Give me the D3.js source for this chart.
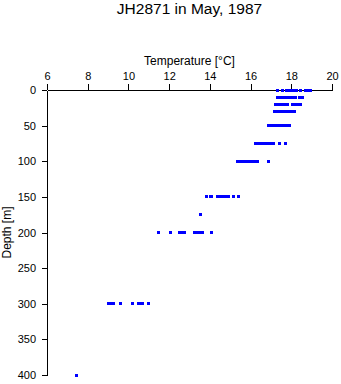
<!DOCTYPE html>
<html>
<head>
<meta charset="utf-8">
<script src="https://cdn.jsdelivr.net/npm/d3@7"></script>
<style>
  html, body { margin: 0; padding: 0; background: #fff; }
  svg { display: block; font-family: "Liberation Sans", Arial, Helvetica, sans-serif; }
</style>
</head>
<body>
<svg id="chart" width="341" height="384"></svg>
<script>
// ---- data ----
const chartTitle = "JH2871 in May, 1987";
const xLabel = "Temperature [°C]";
const yLabel = "Depth [m]";
const xTicks = [6, 8, 10, 12, 14, 16, 18, 20];
const yTicks = [0, 50, 100, 150, 200, 250, 300, 350, 400];

const depths = [0, 10, 20, 30, 50, 75, 100, 150, 175, 200, 300, 400];
const temps0 = [17.32, 17.56, 17.75, 17.85, 17.95, 18.05, 18.17, 18.24, 18.44, 18.71, 18.83, 18.96];
const temps10 = [17.31, 17.38, 17.45, 17.52, 17.60, 17.68, 17.76, 17.84, 17.93, 18.02, 18.11, 18.20, 18.40, 18.48, 18.55];
const temps20 = [17.24, 17.31, 17.39, 17.46, 17.54, 17.62, 17.70, 17.78, 17.83, 18.07, 18.15, 18.22, 18.30, 18.39, 18.47];
const temps30 = [17.19, 17.26, 17.33, 17.41, 17.49, 17.57, 17.64, 17.72, 17.80, 17.88, 17.96, 18.04, 18.11, 18.17];
const temps50 = [16.89, 16.95, 17.02, 17.10, 17.18, 17.25, 17.33, 17.41, 17.49, 17.57, 17.65, 17.73, 17.82, 17.92];
const temps75 = [16.25, 16.32, 16.40, 16.47, 16.55, 16.63, 16.70, 16.78, 16.86, 16.93, 17.01, 17.08, 17.13, 17.41, 17.70];
const temps100 = [15.37, 15.44, 15.52, 15.60, 15.67, 15.75, 15.83, 15.91, 15.98, 16.06, 16.14, 16.22, 16.29, 16.35, 16.89];
const temps150 = [13.84, 14.04, 14.09, 14.38, 14.45, 14.51, 14.57, 14.63, 14.69, 14.75, 14.82, 14.93, 15.17, 15.42];
const temps175 = [13.55];
const temps200 = [11.48, 12.05, 12.52, 12.61, 12.74, 13.25, 13.35, 13.47, 13.62, 14.09];
const temps300 = [9.02, 9.12, 9.22, 9.27, 9.61, 10.20, 10.50, 10.60, 10.67, 10.99];
const temps400 = [7.45];
const tempsByDepth = [temps0, temps10, temps20, temps30, temps50, temps75, temps100,
                      temps150, temps175, temps200, temps300, temps400];

// ---- build point table ----
const points = [];
depths.forEach((d, i) => tempsByDepth[i].forEach(t => points.push({ depth: d, temp: t })));

// ---- layout ----
const svg = d3.select("#chart");
const mLeft = 47, mRight = 332, mTop = 90, mBottom = 375;

const x = d3.scaleLinear().domain([6, 20]).range([mLeft, mRight]);
const y = d3.scaleLinear().domain([0, 400]).range([mTop, mBottom]);

// title
svg.append("text")
  .attr("x", (mLeft + mRight) / 2).attr("y", 13.5)
  .attr("text-anchor", "middle")
  .attr("font-size", "15.5px")
  .attr("fill", "#000")
  .text(chartTitle);

// x axis (top)
const xAxis = svg.append("g")
  .attr("transform", `translate(0,${mTop})`)
  .call(d3.axisTop(x).tickValues(xTicks).tickFormat(d3.format("d"))
        .tickSize(6).tickSizeOuter(0).tickPadding(4.5));
xAxis.selectAll("text").attr("font-size", "11px").attr("fill", "#000");
xAxis.attr("font-family", null).attr("font-size", null);
xAxis.selectAll("line, path").attr("stroke", "#000").attr("shape-rendering", "crispEdges");

svg.append("text")
  .attr("x", (mLeft + mRight) / 2).attr("y", 64.5)
  .attr("text-anchor", "middle")
  .attr("font-size", "12px")
  .attr("fill", "#000")
  .text(xLabel);

// y axis (left)
const yAxis = svg.append("g")
  .attr("transform", `translate(${mLeft},0)`)
  .call(d3.axisLeft(y).tickValues(yTicks).tickFormat(d3.format("d"))
        .tickSize(5).tickSizeOuter(0).tickPadding(6));
yAxis.selectAll("text").attr("font-size", "11px").attr("fill", "#000");
yAxis.attr("font-family", null).attr("font-size", null);
yAxis.selectAll("line, path").attr("stroke", "#000").attr("shape-rendering", "crispEdges");

svg.append("text")
  .attr("transform", `translate(11,${(mTop + mBottom) / 2}) rotate(-90)`)
  .attr("text-anchor", "middle")
  .attr("font-size", "12px")
  .attr("fill", "#000")
  .text(yLabel);

// points
svg.append("g")
  .selectAll("rect")
  .data(points)
  .join("rect")
  .attr("x", d => x(d.temp) - 1.5)
  .attr("y", d => y(d.depth) - 1.5)
  .attr("width", 3)
  .attr("height", 3)
  .attr("fill", "#0000ff")
  .attr("shape-rendering", "crispEdges");
</script>
</body>
</html>
